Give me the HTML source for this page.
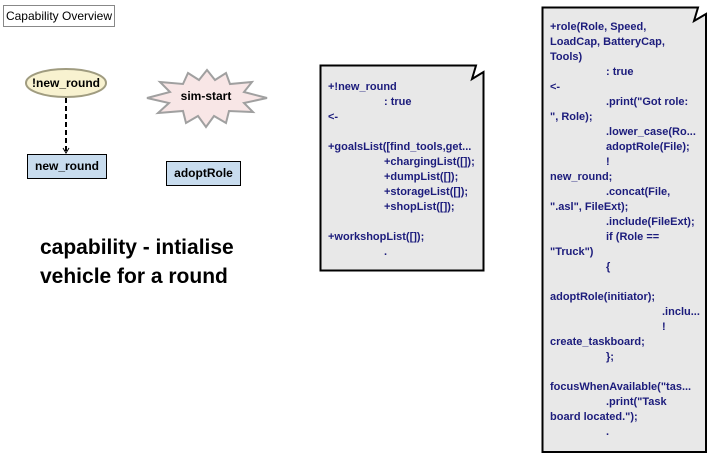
<!DOCTYPE html>
<html><head><style>
body{margin:0;width:724px;height:474px;background:#fff;position:relative;overflow:hidden;font-family:"Liberation Sans",sans-serif}
.a{position:absolute}
.t{position:absolute;font-weight:bold;font-size:11px;color:#1c1c7c;white-space:pre;line-height:15px;tab-size:56px;-moz-tab-size:56px}
</style></head><body>
<div class="a" style="left:3px;top:5px;width:110px;height:20px;border:1px solid #888;font-size:12px;line-height:20px;text-align:center;color:#000">Capability Overview</div>
<svg class="a" style="left:0;top:0" width="724" height="474">
<ellipse cx="66" cy="83" rx="40" ry="14" fill="#f8f2d0" stroke="#a09c80" stroke-width="2"/>
<line x1="66" y1="98" x2="66" y2="152" stroke="#000" stroke-width="2" stroke-dasharray="5,3"/>
<path d="M63 148 L66 153 L69 148" fill="none" stroke="#000" stroke-width="1"/>
<rect x="27.5" y="154.5" width="79" height="24" fill="#c8dcee" stroke="#000"/>
<rect x="166.5" y="161.5" width="74" height="24" fill="#c8dcee" stroke="#000"/>
<polygon points="147,98 170,92 160,82 183,84 188,73 199,80 207,70 215,80 226,73 230,84 252,82 244,92 267,98 244,103 253,112 229,111 226,123 214,116 206,127 198,116 186,123 183,111 158,113 169,103" fill="#f8e6e6" stroke="#a0a0a0" stroke-width="2"/>
<path d="M320.5 65.5 L476 65.5 L472 79 L483.5 72 L483.5 270.5 L320.5 270.5 Z" fill="#e8e8e8" stroke="#000" stroke-width="2"/>
<path d="M542.5 7.5 L698 7.5 L694 21 L706 14 L706 452 L542.5 452 Z" fill="#e8e8e8" stroke="#000" stroke-width="2"/>
</svg>
<div class="a" style="left:27px;top:154px;width:80px;height:25px;line-height:25px;text-align:center;font-weight:bold;font-size:12px">new_round</div>
<div class="a" style="left:26px;top:69px;width:80px;line-height:28px;text-align:center;font-weight:bold;font-size:12px">!new_round</div>
<div class="a" style="left:166px;top:161px;width:75px;height:25px;line-height:25px;text-align:center;font-weight:bold;font-size:12px">adoptRole</div>
<div class="a" style="left:160px;top:89px;width:92px;text-align:center;font-weight:bold;font-size:12px">sim-start</div>
<div class="a" style="left:40px;top:233px;font-weight:bold;font-size:21px;line-height:29px">capability - intialise<br>vehicle for a round</div>
<div class="t" style="left:328px;top:80px">+!new_round
	: true
&lt;-

+goalsList([find_tools,get...
	+chargingList([]);
	+dumpList([]);
	+storageList([]);
	+shopList([]);

+workshopList([]);
	.</div>
<div class="t" style="left:550px;top:20px">+role(Role, Speed,
LoadCap, BatteryCap,
Tools)
	: true
&lt;-
	.print("Got role:
", Role);
	.lower_case(Ro...
	adoptRole(File);
	!
new_round;
	.concat(File,
".asl", FileExt);
	.include(FileExt);
	if (Role ==
"Truck")
	{

adoptRole(initiator);
		.inclu...
		!
create_taskboard;
	};

focusWhenAvailable("tas...
	.print("Task
board located.");
	.</div>
</body></html>
